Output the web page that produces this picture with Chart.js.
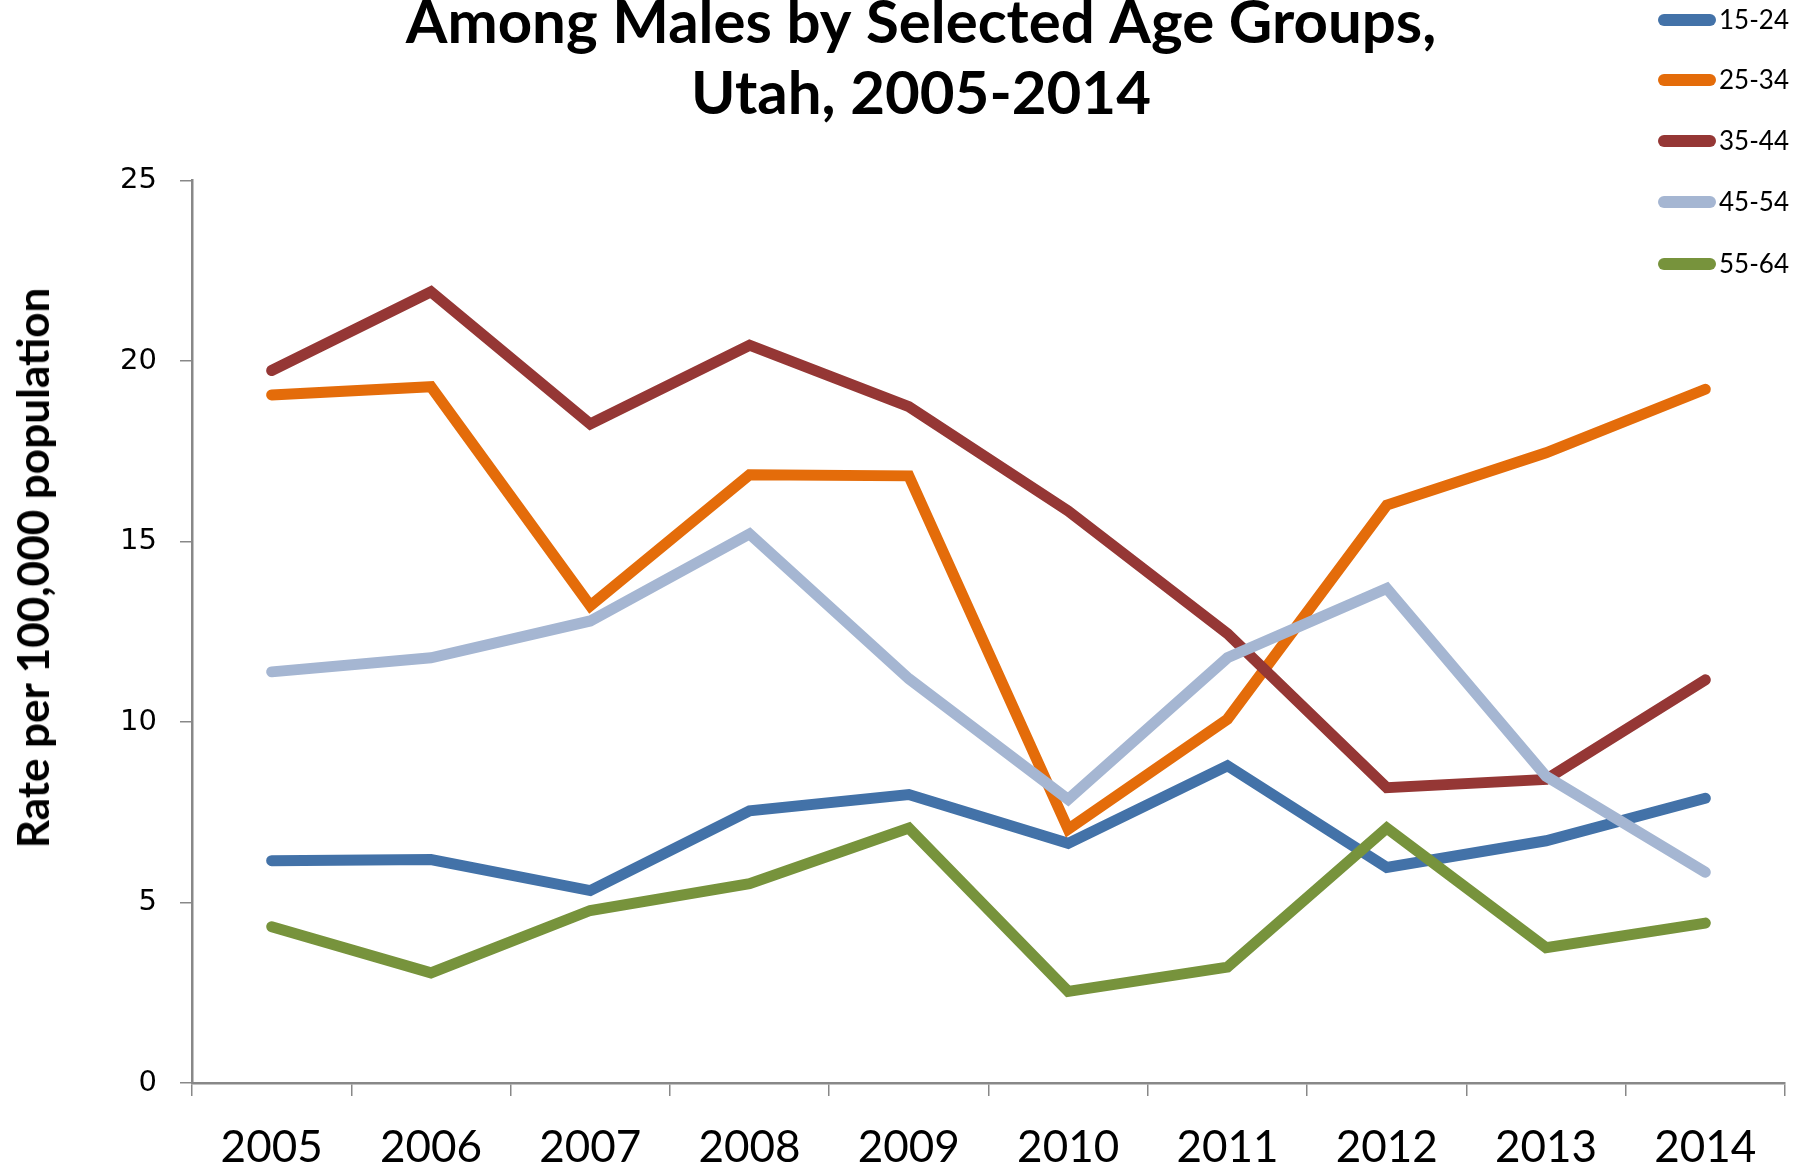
<!DOCTYPE html>
<html>
<head>
<meta charset="utf-8">
<script src="https://cdn.jsdelivr.net/npm/chart.js@4/dist/chart.umd.min.js"></script>
<style>
  html, body { margin: 0; padding: 0; background: #fff; overflow: hidden; }
  #wrap { position: absolute; left: 0; top: -12px; width: 1814px; height: 1180px; }
  #legend { position: absolute; left: 1658px; top: 0; font-family: Lato, "Open Sans", sans-serif; font-size: 26px; color: #000; }
  .item { position: absolute; left: 0; height: 30px; white-space: nowrap; }
  .swatch { position: absolute; left: 0; top: 9px; width: 58px; height: 12px; border-radius: 6px; }
  .lbl { position: absolute; left: 61px; top: -1px; line-height: 30px; }
  #ytitle { position: absolute; left: 32px; top: 568px; transform: translate(-50%, -50%) rotate(-90deg);
            font-family: Lato, sans-serif; font-weight: bold; font-size: 44px; color: #000; white-space: nowrap; line-height: 1; }
</style>
</head>
<body>
<div id="wrap"><canvas id="myChart" width="1814" height="1180"></canvas></div>
<div id="legend"></div>
<div id="ytitle">Rate per 100,000 population</div>
<script>
// 数据
const years = ["2005", "2006", "2007", "2008", "2009", "2010", "2011", "2012", "2013", "2014"];
const groups = ["15-24", "25-34", "35-44", "45-54", "55-64"];
const rate15to24 = [6.16, 6.19, 5.33, 7.54, 7.99, 6.64, 8.79, 5.97, 6.71, 7.89];
const rate25to34 = [19.06, 19.29, 13.22, 16.85, 16.82, 7.03, 10.08, 16.01, 17.46, 19.22];
const rate35to44 = [19.74, 21.92, 18.26, 20.44, 18.74, 15.85, 12.45, 8.18, 8.41, 11.17];
const rate45to54 = [11.39, 11.78, 12.80, 15.21, 11.20, 7.86, 11.78, 13.70, 8.50, 5.84];
const rate55to64 = [4.33, 3.05, 4.78, 5.52, 7.06, 2.54, 3.21, 7.06, 3.75, 4.43];
const yTicks = [0, 5, 10, 15, 20, 25];

const colors = ['#4372A8', '#E46C0A', '#953735', '#A5B6D2', '#77933C'];
const series = [rate15to24, rate25to34, rate35to44, rate45to54, rate55to64];

const datasets = groups.map((g, i) => ({
    label: g,
    data: series[i],
    borderColor: colors[i],
    backgroundColor: colors[i],
    borderWidth: 11,
    borderCapStyle: 'round',
    borderJoinStyle: 'miter',
    pointRadius: 0,
    tension: 0,
    order: groups.length - i // 后面的系列画在上面
}));

// 图例（HTML）
const legendEl = document.getElementById('legend');
const legendTops = [5, 65, 126, 187, 249];
groups.forEach((g, i) => {
    const item = document.createElement('div');
    item.className = 'item';
    item.style.top = legendTops[i] + 'px';
    item.innerHTML = '<span class="swatch" style="background:' + colors[i] + '"></span><span class="lbl">' + g + '</span>';
    legendEl.appendChild(item);
});

const ctx = document.getElementById('myChart').getContext('2d');
const chart = new Chart(ctx, {
    type: 'line',
    data: { labels: years, datasets: datasets },
    options: {
        responsive: false,
        animation: false,
        layout: { padding: { left: 57, right: 29, top: 0, bottom: 0 } },
        plugins: {
            legend: { display: false },
            tooltip: { enabled: false },
            title: {
                display: true,
                text: ["Among Males by Selected Age Groups,", "Utah, 2005-2014"],
                color: '#000',
                font: { family: 'Lato', size: 60, weight: 'bold', lineHeight: 1.18 },
                padding: { top: 0, bottom: 51 }
            }
        },
        scales: {
            x: {
                offset: true,
                grid: { offset: true, drawOnChartArea: false, drawTicks: true, tickLength: 13, color: '#888', lineWidth: 1.5 },
                border: { color: '#888', width: 2.5 },
                ticks: { color: '#000', padding: 25, font: { family: 'Lato', size: 44 }, maxRotation: 0, autoSkip: false },
                afterFit: (scale) => { scale.height = 85; }
            },
            y: {
                min: 0,
                max: 25,
                afterBuildTicks: (scale) => { scale.ticks = yTicks.map(v => ({ value: v })); },
                grid: { drawOnChartArea: false, drawTicks: true, tickLength: 12, color: '#888', lineWidth: 1.5 },
                border: { color: '#888', width: 2.5 },
                ticks: { color: '#000', padding: 23, font: { family: 'DejaVu Sans', size: 29 } },
                afterFit: (scale) => { scale.width = 192 - 57; }
            }
        }
    }
});
</script>
</body>
</html>
